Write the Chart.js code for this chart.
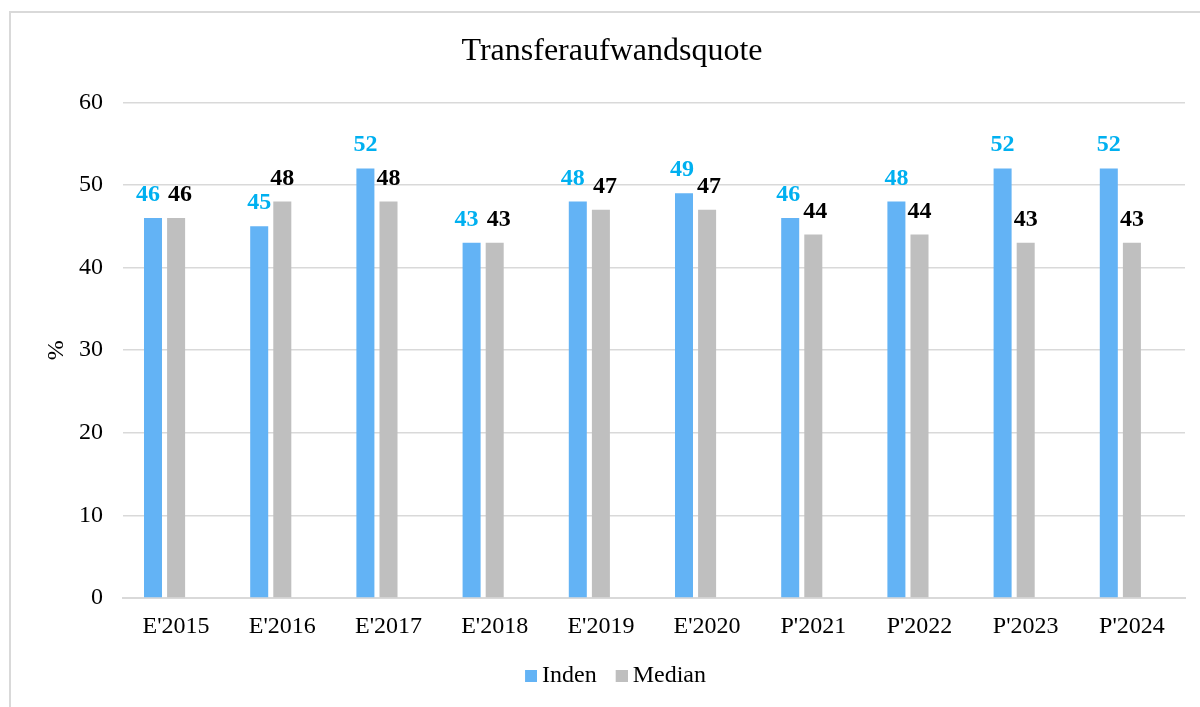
<!DOCTYPE html>
<html>
<head>
<meta charset="utf-8">
<script src="https://cdn.jsdelivr.net/npm/chart.js@4.4.1/dist/chart.umd.min.js"></script>
<style>
  html, body { margin: 0; padding: 0; background: #fff; }
  #wrap { position: relative; width: 1200px; height: 707px; }
  canvas { display: block; }
</style>
</head>
<body>
<div id="wrap"><canvas id="c" width="1200" height="707"></canvas></div>
<script>
const categories = ["E'2015", "E'2016", "E'2017", "E'2018", "E'2019", "E'2020", "P'2021", "P'2022", "P'2023", "P'2024"];
const indenValues = [46, 45, 52, 43, 48, 49, 46, 48, 52, 52];
const medianValues = [46, 48, 48, 43, 47, 47, 44, 44, 43, 43];
const emptyValues = [null, null, null, null, null, null, null, null, null, null];
const yTicks = [0, 10, 20, 30, 40, 50, 60];
const seriesColors = ['#63b3f5', '#bfbfbf'];

const FONT = "'Liberation Serif', 'Times New Roman', serif";

// legend swatch: 12px square drawn at the right part of a wider transparent canvas,
// so the gap between swatch and text is narrower (as in the original)
function swatch(color) {
  const c = document.createElement('canvas');
  c.width = 26; c.height = 12;
  const g = c.getContext('2d');
  g.fillStyle = color;
  g.fillRect(14, 0, 12, 12);
  return c;
}

const borderPlugin = {
  id: 'frame',
  beforeDraw(chart) {
    const ctx = chart.ctx;
    ctx.save();
    ctx.fillStyle = '#fff';
    ctx.fillRect(0, 0, chart.width, chart.height);
    ctx.strokeStyle = '#d9d9d9';
    ctx.lineWidth = 2;
    ctx.beginPath();
    ctx.moveTo(1200, 12);
    ctx.lineTo(10, 12);
    ctx.lineTo(10, 707);
    ctx.stroke();
    ctx.restore();
  }
};

// value labels above the bars; nudges neighbouring labels apart when they sit at similar heights
const labelPlugin = {
  id: 'valueLabels',
  afterDatasetsDraw(chart) {
    const ctx = chart.ctx;
    const colors = ['#00b0f0', '#000000'];
    const m0 = chart.getDatasetMeta(0).data;
    const m1 = chart.getDatasetMeta(1).data;
    ctx.save();
    ctx.font = "bold 24px " + FONT;
    ctx.textAlign = 'center';
    ctx.textBaseline = 'alphabetic';
    m0.forEach((el0, i) => {
      const el1 = m1[i];
      const dy = Math.abs(el0.y - el1.y);
      let s0 = 0, s1 = 0;
      if (dy < 9) { s0 = -5; s1 = 4; }
      else if (dy < 18) { s0 = -2; s1 = 2; }
      ctx.fillStyle = colors[0];
      ctx.fillText(String(chart.data.datasets[0].data[i]), el0.x + s0, el0.y - 17);
      ctx.fillStyle = colors[1];
      ctx.fillText(String(chart.data.datasets[1].data[i]), el1.x + s1, el1.y - 17);
    });
    ctx.restore();
  }
};

new Chart(document.getElementById('c'), {
  type: 'bar',
  data: {
    labels: categories,
    datasets: [
      { label: 'Inden', data: indenValues, backgroundColor: seriesColors[0], categoryPercentage: 0.6525, barPercentage: 0.78 },
      { label: 'Median', data: medianValues, backgroundColor: seriesColors[1], categoryPercentage: 0.6525, barPercentage: 0.78 },
      { label: '', data: emptyValues, backgroundColor: 'rgba(0,0,0,0)', categoryPercentage: 0.6525, barPercentage: 0.78 }
    ]
  },
  options: {
    responsive: false,
    animation: false,
    devicePixelRatio: 1,
    layout: { padding: { left: 39, right: 15, top: 0, bottom: 9 } },
    plugins: {
      title: {
        display: true,
        text: 'Transferaufwandsquote',
        color: '#000',
        font: { family: FONT, size: 32, weight: 'normal', lineHeight: 1.2 },
        padding: { top: 32, bottom: 32 }
      },
      legend: {
        display: true,
        position: 'bottom',
        labels: {
          color: '#000',
          font: { family: FONT, size: 24 },
          boxWidth: 12,
          boxHeight: 12,
          padding: 12,
          usePointStyle: true,
          generateLabels(chart) {
            const items = Chart.defaults.plugins.legend.labels.generateLabels(chart);
            return items.filter(it => it.text !== '').map(it => {
              it.pointStyle = swatch(seriesColors[it.datasetIndex]);
              return it;
            });
          }
        }
      },
      tooltip: { enabled: false }
    },
    scales: {
      x: {
        grid: { display: false, drawTicks: false },
        border: { display: true, color: '#d9d9d9', width: 2 },
        ticks: { color: '#000', font: { family: FONT, size: 24 }, padding: 14, maxRotation: 0 },
        afterFit(scale) { scale.height = 54; }
      },
      y: {
        min: 0,
        max: 60,
        afterBuildTicks(scale) { scale.ticks = yTicks.map(v => ({ value: v })); },
        grid: { color: '#d9d9d9', lineWidth: 1.5, drawTicks: false },
        border: { display: false },
        ticks: { color: '#000', font: { family: FONT, size: 24 }, padding: 20 },
        title: { display: true, text: '%', color: '#000', font: { family: FONT, size: 24 }, padding: { top: 3, bottom: 0 } },
        afterFit(scale) { scale.width = 84; }
      }
    }
  },
  plugins: [borderPlugin, labelPlugin]
});
</script>
</body>
</html>
